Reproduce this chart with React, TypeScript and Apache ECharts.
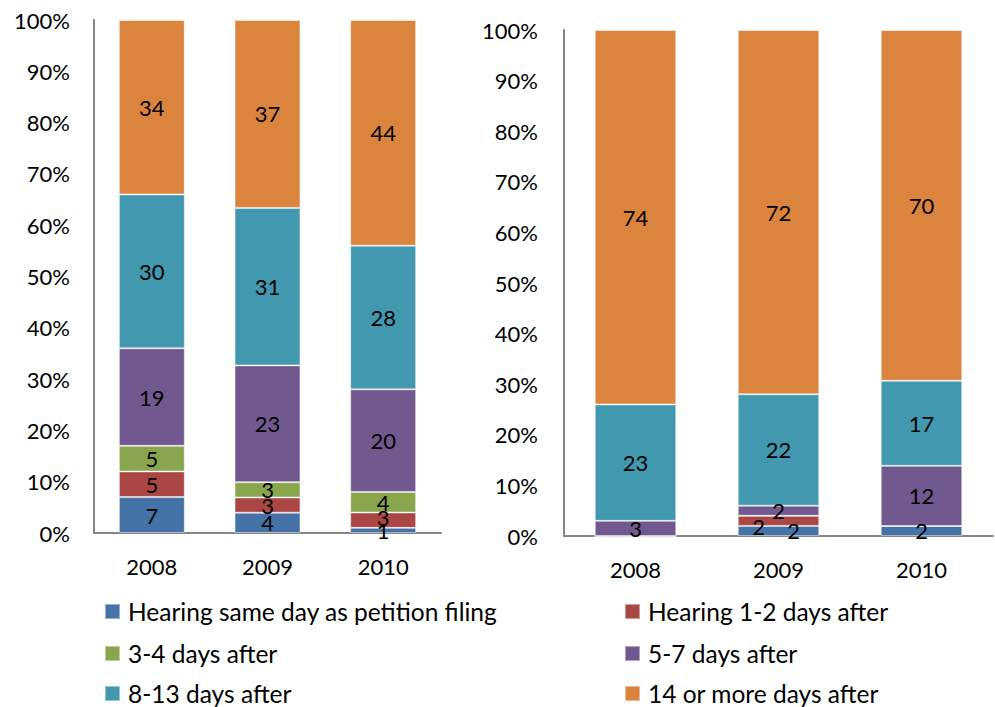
import React, { useEffect, useRef } from "react";
import * as echarts from "echarts";

const categories = ["2008", "2009", "2010"];
const seriesNames = [
  "Hearing same day as petition filing",
  "Hearing 1-2 days after",
  "3-4 days after",
  "5-7 days after",
  "8-13 days after",
  "14 or more days after",
];
const colors = ["#4572A7", "#AA4643", "#89A54E", "#71588F", "#4198AF", "#DB843D"];

// Left chart values (raw counts / percents as labelled)
const leftSameDay = [7, 4, 1];
const leftOneTwo = [5, 3, 3];
const leftThreeFour = [5, 3, 4];
const leftFiveSeven = [19, 23, 20];
const leftEightThirteen = [30, 31, 28];
const leftFourteen = [34, 37, 44];

// Right chart values
const rightSameDay = [0, 2, 2];
const rightOneTwo = [0, 2, 0];
const rightThreeFour = [0, 0, 0];
const rightFiveSeven = [3, 2, 12];
const rightEightThirteen = [23, 22, 17];
const rightFourteen = [74, 72, 70];

const yTicks = ["0%", "10%", "20%", "30%", "40%", "50%", "60%", "70%", "80%", "90%", "100%"];

const FONT = "Lato, 'Open Sans', sans-serif";

function buildSeries(sets: number[][], axisIndex: number, offsets: Record<string, number[]>) {
  const totals = categories.map((_, i) => sets.reduce((s, arr) => s + arr[i], 0));
  return sets.map((arr, si) => ({
    name: seriesNames[si],
    type: "bar",
    stack: "s" + axisIndex,
    xAxisIndex: axisIndex,
    yAxisIndex: axisIndex,
    barWidth: "57%",
    itemStyle: { color: colors[si], borderColor: "rgba(255,255,255,0.45)", borderWidth: 1 },
    label: {
      show: true,
      position: "inside",
      color: "#000",
      fontSize: 22,
      fontFamily: FONT,
      formatter: (p: any) => (p.data.raw ? String(p.data.raw) : ""),
    },
    data: arr.map((v, i) => {
      const off = offsets[si + "-" + i];
      const d: any = { value: (v / totals[i]) * 100, raw: v };
      if (off) d.label = { offset: off };
      return d;
    }),
  }));
}

export default function App() {
  const ref = useRef<HTMLDivElement>(null);
  useEffect(() => {
    if (!ref.current) return;
    const chart = echarts.init(ref.current, null, { renderer: "svg" });
    const axisLine = { show: true, lineStyle: { color: "#868686", width: 2 } };
    const leftSets = [leftSameDay, leftOneTwo, leftThreeFour, leftFiveSeven, leftEightThirteen, leftFourteen];
    const rightSets = [rightSameDay, rightOneTwo, rightThreeFour, rightFiveSeven, rightEightThirteen, rightFourteen];
    const yAxisBase = (idx: number, margin: number) => ({
      type: "value",
      gridIndex: idx,
      min: 0,
      max: 100,
      interval: 10,
      axisLine,
      axisTick: { show: false },
      splitLine: { show: false },
      axisLabel: {
        margin,
        fontSize: 22,
        fontFamily: FONT,
        color: "#000",
        formatter: (v: number) => yTicks[Math.round(v / 10)],
      },
    });
    const xAxisBase = (idx: number) => ({
      type: "category",
      gridIndex: idx,
      data: categories,
      axisLine,
      axisTick: { show: false },
      axisLabel: { margin: 22, fontSize: 22, fontFamily: FONT, color: "#000" },
    });
    const legendItem = (name: string, left: number, top: number) => ({
      orient: "horizontal",
      icon: "rect",
      padding: 0,
      left,
      top,
      itemWidth: 15,
      itemHeight: 15,
      selectedMode: false,
      data: [name],
      textStyle: { fontSize: 24.5, fontFamily: FONT, color: "#000", padding: [0, 0, 0, 3] },
    });
    const rowTops = [599, 641, 681];
    chart.setOption({
      animation: false,
      grid: [
        { left: 94, right: 554, top: 20, bottom: 174 },
        { left: 564, right: 2, top: 30, bottom: 171 },
      ],
      xAxis: [xAxisBase(0), xAxisBase(1)],
      yAxis: [yAxisBase(0, 24), yAxisBase(1, 26)],
      legend: [
        legendItem(seriesNames[0], 104, rowTops[0]),
        legendItem(seriesNames[1], 624, rowTops[0]),
        legendItem(seriesNames[2], 104, rowTops[1]),
        legendItem(seriesNames[3], 624, rowTops[1]),
        legendItem(seriesNames[4], 104, rowTops[2]),
        legendItem(seriesNames[5], 624, rowTops[2]),
      ],
      series: [
        ...buildSeries(leftSets, 0, { "1-2": [0, -3] }),
        ...buildSeries(rightSets, 1, { "0-1": [15, 0], "1-1": [-20, 6] }),
      ],
    });
    return () => chart.dispose();
  }, []);
  return <div ref={ref} style={{ width: 995, height: 707, position: "absolute", left: 0, top: 0 }} />;
}
